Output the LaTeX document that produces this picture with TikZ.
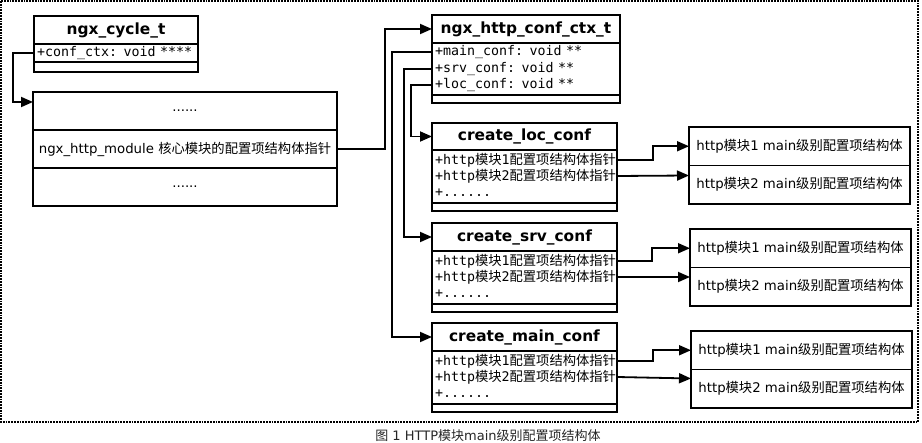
\documentclass[tikz,border=0pt]{standalone}
\usepackage{fontspec}
\setmainfont{DejaVu Sans}
\setmonofont{DejaVu Sans Mono}
\newfontfamily\cjk{Noto Sans CJK SC}
\newcommand{\zh}[1]{{\cjk #1}}
\usetikzlibrary{arrows.meta}
\tikzset{
  head/.style={draw,line width=1.8pt,outer sep=0pt,inner sep=0pt,anchor=north west,
    minimum height=28pt,font=\fontsize{15.4}{18}\selectfont\bfseries},
  row/.style={text width=#1,align=left,inner xsep=3pt,inner ysep=0pt,outer sep=0pt,
    minimum height=16.5pt,anchor=north west,font=\fontsize{13.3}{16}\selectfont\ttfamily},
  foot/.style={draw,line width=1.8pt,outer sep=0pt,inner sep=0pt,anchor=north west,minimum height=8pt},
  cell/.style={draw,line width=1.8pt,outer sep=0pt,inner sep=0pt,anchor=north west,
    minimum height=38.5pt,minimum width=221pt,font=\fontsize{13.3}{16}\selectfont},
  link/.style={->,line width=1.8pt},
}
\begin{document}
\begin{tikzpicture}[x=1pt,y=-1pt,>={Triangle[length=12pt,width=10pt]}]
		\useasboundingbox (0,0) rectangle (922,443);
		\draw[densely dotted,line width=1.8pt] (1,1) rectangle (918,422);
		% ngx_cycle_t
		\node[head,minimum width=164pt] (cyct) at (34,16) {ngx\_cycle\_t};
		\node[row=158pt,draw,line width=1.8pt,minimum height=18pt] (cycconf) at (cyct.south west) {+conf\_ctx: void ****};
		\node[foot,minimum width=164pt,minimum height=10pt] (cycb) at (cycconf.south west) {};
		% array of module pointers
		\node[cell,minimum width=304pt,minimum height=38pt] (arr1) at (33,92) {......};
		\node[cell,minimum width=304pt,minimum height=38pt] (arrmod) at (arr1.south west) {ngx\_http\_module \zh{核心模块的配置项结构体指针}};
		\node[cell,minimum width=304pt,minimum height=38pt] (arr3) at (arrmod.south west) {......};
		% ngx_http_conf_ctx_t
		\node[head,minimum width=188pt] (ctxt) at (432,15) {ngx\_http\_conf\_ctx\_t};
		\node[row=182pt] (ctxmain) at ([yshift=-1pt]ctxt.south west) {+main\_conf: void **};
		\node[row=182pt] (ctxsrv) at (ctxmain.south west) {+srv\_conf: void **};
		\node[row=182pt] (ctxloc) at (ctxsrv.south west) {+loc\_conf: void **};
		\node[foot,minimum width=188pt] (ctxb) at ([yshift=-1.5pt]ctxloc.south west) {};
		\draw[line width=1.8pt] (ctxt.south west) rectangle (ctxb.north east);
		% create_loc_conf
		\node[head,minimum width=185pt,minimum height=27pt] (loct) at (432,123) {create\_loc\_conf};
		\node[row=179pt] (locr1) at ([yshift=-1.75pt]loct.south west) {+http\zh{模块}1\zh{配置项结构体指针}};
		\node[row=179pt] (locr2) at (locr1.south west) {+http\zh{模块}2\zh{配置项结构体指针}};
		\node[row=179pt] (locr3) at (locr2.south west) {+......};
		\node[foot,minimum width=185pt] (locb) at ([yshift=-1.75pt]locr3.south west) {};
		\draw[line width=1.8pt] (loct.south west) rectangle (locb.north east);
		% create_srv_conf
		\node[head,minimum width=185pt] (srvt) at (432,223) {create\_srv\_conf};
		\node[row=179pt] (srvr1) at ([yshift=-1.75pt]srvt.south west) {+http\zh{模块}1\zh{配置项结构体指针}};
		\node[row=179pt] (srvr2) at (srvr1.south west) {+http\zh{模块}2\zh{配置项结构体指针}};
		\node[row=179pt] (srvr3) at (srvr2.south west) {+......};
		\node[foot,minimum width=185pt] (srvb) at ([yshift=-1.75pt]srvr3.south west) {};
		\draw[line width=1.8pt] (srvt.south west) rectangle (srvb.north east);
		% create_main_conf
		\node[head,minimum width=185pt] (maint) at (432,323) {create\_main\_conf};
		\node[row=179pt] (mainr1) at ([yshift=-1.75pt]maint.south west) {+http\zh{模块}1\zh{配置项结构体指针}};
		\node[row=179pt] (mainr2) at (mainr1.south west) {+http\zh{模块}2\zh{配置项结构体指针}};
		\node[row=179pt] (mainr3) at (mainr2.south west) {+......};
		\node[foot,minimum width=185pt] (mainb) at ([yshift=-1.75pt]mainr3.south west) {};
		\draw[line width=1.8pt] (maint.south west) rectangle (mainb.north east);
		% module conf structs
		\node[cell] (loc1) at (689,127) {http\zh{模块}1 main\zh{级别配置项结构体}};
		\node[cell] (loc2) at (loc1.south west) {http\zh{模块}2 main\zh{级别配置项结构体}};
		\node[cell] (srv1) at (690,229) {http\zh{模块}1 main\zh{级别配置项结构体}};
		\node[cell] (srv2) at (srv1.south west) {http\zh{模块}2 main\zh{级别配置项结构体}};
		\node[cell] (main1) at (691,331) {http\zh{模块}1 main\zh{级别配置项结构体}};
		\node[cell] (main2) at (main1.south west) {http\zh{模块}2 main\zh{级别配置项结构体}};
		% connectors
		\draw[link] (cycconf.west) -- ++(-21,0) |- ([yshift=-10pt]arr1.north west);
		\draw[link] (arrmod.east) -- ++(48,0) |- (ctxt.west);
		\draw[link] (ctxmain.west) -- ++(-40,0) |- (maint.west);
		\draw[link] (ctxsrv.west) -- ++(-28,0) |- (srvt.west);
		\draw[link] (ctxloc.west) -- ++(-21,0) |- (loct.west);
		\draw[link] (locr1.east) -- ++(36,0) |- (loc1.west);
		\draw[link] ([yshift=0.5pt]locr2.east) -- ([yshift=1pt]locr2.east -| loc2.west);
		\draw[link] (srvr1.east) -- ++(35,0) |- (srv1.west);
		\draw[link] ([yshift=0.5pt]srvr2.east) -- ([yshift=0.5pt]srvr2.east -| srv2.west);
		\draw[link] (mainr1.east) -- ++(36,0) |- (main1.west);
		\draw[link] ([yshift=0.5pt]mainr2.east) -- ([yshift=-1pt]mainr2.east -| main2.west);
		\node[font=\fontsize{13}{15}\selectfont,text=black!85] (cap) at (488,436) {\zh{图} 1 HTTP\zh{模块}main\zh{级别配置项结构体}};
	\end{tikzpicture}
\end{document}
